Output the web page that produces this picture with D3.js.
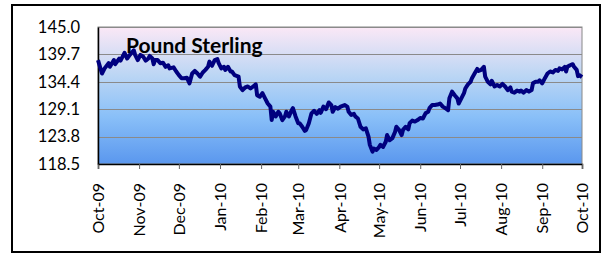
<!DOCTYPE html>
<html>
<head>
<meta charset="utf-8">
<script src="https://cdn.jsdelivr.net/npm/d3@7"></script>
<style>
  body { margin: 0; background: #fff; }
  svg { display: block; }
  text { font-family: Lato, "Open Sans", sans-serif; fill: #000; }
</style>
</head>
<body>
<div id="chart"></div>
<script>
// one row per month
const dates = [
  "2009-10-01","2009-10-04","2009-10-06","2009-10-09","2009-10-10","2009-10-13","2009-10-14","2009-10-17","2009-10-18","2009-10-21","2009-10-23","2009-10-25","2009-10-28","2009-10-29","2009-10-31",
  "2009-11-02","2009-11-04","2009-11-06","2009-11-08","2009-11-09","2009-11-11","2009-11-12","2009-11-13","2009-11-15","2009-11-17","2009-11-19","2009-11-21","2009-11-23","2009-11-24","2009-11-27","2009-11-29",
  "2009-12-01","2009-12-03","2009-12-05","2009-12-07","2009-12-09","2009-12-11","2009-12-13","2009-12-15","2009-12-17","2009-12-19","2009-12-21","2009-12-23","2009-12-24","2009-12-26","2009-12-28","2009-12-30","2009-12-31",
  "2010-01-02","2010-01-04","2010-01-05","2010-01-07","2010-01-09","2010-01-10","2010-01-12","2010-01-15","2010-01-16","2010-01-18","2010-01-20","2010-01-22","2010-01-24","2010-01-26","2010-01-28","2010-01-29","2010-01-31",
  "2010-02-02","2010-02-04","2010-02-06","2010-02-08","2010-02-09","2010-02-10","2010-02-12","2010-02-14","2010-02-15","2010-02-17","2010-02-19","2010-02-20","2010-02-22","2010-02-24","2010-02-25","2010-02-27",
  "2010-03-01","2010-03-02","2010-03-04","2010-03-06","2010-03-07","2010-03-09","2010-03-11","2010-03-13","2010-03-15","2010-03-17","2010-03-18","2010-03-20","2010-03-22","2010-03-24","2010-03-26","2010-03-27","2010-03-29","2010-03-31",
  "2010-04-02","2010-04-05","2010-04-07","2010-04-08","2010-04-10","2010-04-12","2010-04-13","2010-04-15","2010-04-17","2010-04-19","2010-04-21","2010-04-23","2010-04-24","2010-04-26","2010-04-27","2010-04-29",
  "2010-05-01","2010-05-02","2010-05-04","2010-05-06","2010-05-07","2010-05-09","2010-05-11","2010-05-13","2010-05-14","2010-05-16","2010-05-18","2010-05-19","2010-05-21","2010-05-23","2010-05-24","2010-05-26","2010-05-28","2010-05-30",
  "2010-06-01","2010-06-03","2010-06-05","2010-06-07","2010-06-08","2010-06-10","2010-06-12","2010-06-14","2010-06-16","2010-06-18","2010-06-20","2010-06-22","2010-06-23","2010-06-25","2010-06-27","2010-06-29","2010-06-30",
  "2010-07-02","2010-07-04","2010-07-05","2010-07-07","2010-07-09","2010-07-10","2010-07-12","2010-07-14","2010-07-15","2010-07-17","2010-07-19","2010-07-20","2010-07-22","2010-07-24","2010-07-25","2010-07-27","2010-07-29","2010-07-31",
  "2010-08-02","2010-08-04","2010-08-06","2010-08-08","2010-08-09","2010-08-11","2010-08-13","2010-08-15","2010-08-16","2010-08-18","2010-08-20","2010-08-22","2010-08-24","2010-08-25","2010-08-27","2010-08-29","2010-08-30",
  "2010-09-01","2010-09-03","2010-09-05","2010-09-07","2010-09-09","2010-09-11","2010-09-13","2010-09-14","2010-09-16","2010-09-18","2010-09-19","2010-09-20","2010-09-22","2010-09-24","2010-09-25","2010-09-27","2010-09-28","2010-09-29",
  "2010-10-01"
];

const values = [
  138.6,136.0,137.0,138.0,137.3,138.6,137.8,138.9,138.5,140.0,138.9,139.6,140.5,139.6,138.6,
  139.6,139.3,138.5,138.9,139.4,138.9,137.8,138.6,138.6,138.0,138.1,137.3,137.6,137.0,137.2,136.4,
  135.7,135.1,135.1,135.2,134.1,136.0,136.5,136.0,135.4,136.2,136.7,137.3,138.3,137.5,138.6,138.8,138.0,
  137.0,137.3,136.7,137.3,136.4,136.4,135.7,135.4,133.5,132.8,133.3,133.5,133.1,133.5,133.9,131.8,131.5,
  132.2,131.2,130.2,129.6,127.0,128.6,127.7,128.6,128.3,127.0,127.7,128.6,127.7,128.9,129.3,127.7,
  126.4,126.4,125.7,124.9,125.1,126.4,128.3,128.8,128.2,128.9,128.4,129.6,129.1,130.4,129.9,128.6,129.5,129.2,
  129.6,129.9,129.6,128.6,128.0,128.2,127.7,127.3,125.7,125.2,125.4,123.8,122.2,120.9,121.5,121.2,
  121.8,122.2,121.8,122.8,124.1,123.1,123.5,124.7,125.7,125.1,124.1,125.1,125.7,125.2,126.4,126.9,126.7,127.0,
  127.4,127.3,128.3,128.6,129.3,129.9,129.9,130.0,130.2,129.6,129.3,128.9,131.2,132.5,131.8,131.2,130.2,
  131.2,132.2,133.1,133.9,134.4,135.1,136.0,136.9,136.5,136.7,137.3,135.4,134.4,133.9,134.6,133.5,133.8,133.5,
  134.0,133.5,132.8,133.3,132.5,132.3,132.7,132.5,132.7,132.3,132.8,132.5,132.8,134.1,134.4,134.4,134.7,
  134.1,135.1,136.0,136.4,136.2,136.7,136.5,137.0,136.8,137.3,136.4,137.3,137.6,137.8,137.3,136.7,135.5,135.7,
  135.3
];

const monthTicks = ["2009-10-01","2009-11-01","2009-12-01","2010-01-01","2010-02-01","2010-03-01","2010-04-01",
  "2010-05-01","2010-06-01","2010-07-01","2010-08-01","2010-09-01","2010-10-01"];
const monthLabels = ["Oct-09","Nov-09","Dec-09","Jan-10","Feb-10","Mar-10","Apr-10",
  "May-10","Jun-10","Jul-10","Aug-10","Sep-10","Oct-10"];
const yTicks = [118.5, 123.8, 129.1, 134.4, 139.7, 145.0];
const title = "Pound Sterling";

const parse = d3.timeParse("%Y-%m-%d");
const data = dates.map((d, i) => ({ date: parse(d), value: values[i] }));

const width = 603, height = 254;
const margin = { top: 27, right: 21, bottom: 90, left: 98 };
const plotW = width - margin.left - margin.right;
const plotH = height - margin.top - margin.bottom;

const svg = d3.select('#chart')
  .append('svg')
  .attr('width', width)
  .attr('height', height);

// outer chart frame
svg.append('rect')
  .attr('x', 12).attr('y', 5)
  .attr('width', 588).attr('height', 247)
  .attr('fill', '#fff')
  .attr('stroke', '#000')
  .attr('stroke-width', 2);

const grad = svg.append('defs').append('linearGradient')
  .attr('id', 'bg')
  .attr('x1', 0).attr('y1', 0).attr('x2', 0).attr('y2', 1);
grad.append('stop').attr('offset', '0%').attr('stop-color', '#fbe8f6');
grad.append('stop').attr('offset', '35%').attr('stop-color', '#bcd6f4');
grad.append('stop').attr('offset', '65%').attr('stop-color', '#8ac0f8');
grad.append('stop').attr('offset', '100%').attr('stop-color', '#5a97ee');

const graph = svg.append('g')
  .attr('transform', `translate(${margin.left}, ${margin.top})`);

const x = d3.scaleTime()
  .domain([parse(monthTicks[0]), parse(monthTicks[monthTicks.length - 1])])
  .range([0, plotW]);

const y = d3.scaleLinear()
  .domain([yTicks[0], yTicks[yTicks.length - 1]])
  .range([plotH, 0]);

graph.append('rect')
  .attr('width', plotW)
  .attr('height', plotH)
  .attr('fill', 'url(#bg)')
  .attr('stroke', '#888')
  .attr('stroke-width', 1);

// gridlines
graph.selectAll('line.grid')
  .data(yTicks)
  .enter()
  .append('line')
  .attr('class', 'grid')
  .attr('x1', 0).attr('x2', plotW)
  .attr('y1', d => Math.round(y(d)) + 0.5)
  .attr('y2', d => Math.round(y(d)) + 0.5)
  .attr('stroke', '#8a8a8a')
  .attr('stroke-width', 1);

// axes
const xAxis = d3.axisBottom(x)
  .tickValues(monthTicks.map(parse))
  .tickSize(5)
  .tickFormat((d, i) => monthLabels[i]);

const yAxis = d3.axisLeft(y)
  .tickValues(yTicks)
  .tickSize(0)
  .tickPadding(18)
  .tickFormat(d3.format('.1f'));

const xAxisGroup = graph.append('g')
  .attr('transform', `translate(0, ${plotH})`)
  .call(xAxis);

xAxisGroup.select('.domain').attr('stroke', '#000').attr('stroke-width', 1.5);
xAxisGroup.selectAll('.tick line').attr('stroke', '#666');
xAxisGroup.selectAll('text')
  .attr('transform', 'rotate(-90)')
  .attr('text-anchor', 'end')
  .attr('x', -19)
  .attr('y', 0)
  .attr('dy', '0.36em')
  .style('font-size', '16px');

const yAxisGroup = graph.append('g').call(yAxis);
yAxisGroup.select('.domain').attr('stroke', '#000').attr('stroke-width', 1.5);
yAxisGroup.selectAll('text').style('font-size', '16.5px');

// series
const line = d3.line()
  .x(d => x(d.date))
  .y(d => y(d.value));

graph.append('path')
  .datum(data)
  .attr('fill', 'none')
  .attr('stroke', '#00007f')
  .attr('stroke-width', 4)
  .attr('stroke-linejoin', 'round')
  .attr('d', line);

svg.append('text')
  .attr('x', 126)
  .attr('y', 53)
  .style('font-size', '21px')
  .style('font-weight', 'bold')
  .text(title);
</script>
</body>
</html>
